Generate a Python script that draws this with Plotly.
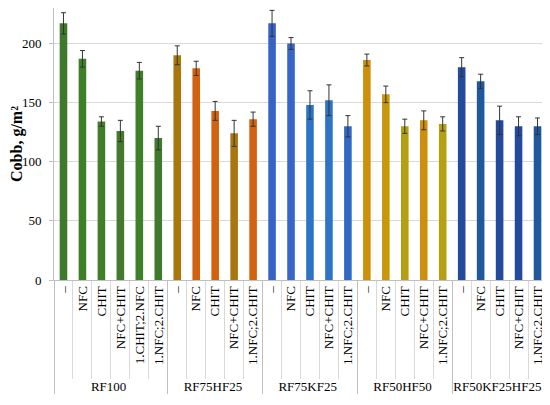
import plotly.graph_objects as go

# sample groups and treatments
groups = ['RF100', 'RF75HF25', 'RF75KF25', 'RF50HF50', 'RF50KF25HF25']
treatments = {
    'RF100': ['–', 'NFC', 'CHIT', 'NFC+CHIT', '1.CHIT;2.NFC', '1.NFC;2.CHIT'],
    'RF75HF25': ['–', 'NFC', 'CHIT', 'NFC+CHIT', '1.NFC;2.CHIT'],
    'RF75KF25': ['–', 'NFC', 'CHIT', 'NFC+CHIT', '1.NFC;2.CHIT'],
    'RF50HF50': ['–', 'NFC', 'CHIT', 'NFC+CHIT', '1.NFC;2.CHIT'],
    'RF50KF25HF25': ['–', 'NFC', 'CHIT', 'NFC+CHIT', '1.NFC;2.CHIT'],
}

# Cobb values, g/m2 and their errors
cobb = {
    'RF100': [217, 187, 134, 126, 177, 120],
    'RF75HF25': [190, 179, 143, 124, 136],
    'RF75KF25': [217, 200, 148, 152, 130],
    'RF50HF50': [186, 157, 130, 135, 132],
    'RF50KF25HF25': [180, 168, 135, 130, 130],
}
errors = {
    'RF100': [9, 7, 4, 9, 7, 10],
    'RF75HF25': [8, 6, 8, 11, 6],
    'RF75KF25': [11, 5, 12, 13, 9],
    'RF50HF50': [5, 7, 6, 8, 6],
    'RF50KF25HF25': [8, 6, 12, 8, 7],
}

colors = {
    'RF100': ['#3d7a2b', '#3f7f2a', '#3f7f2a', '#437a2e', '#3f7f2a', '#3d7a2b'],
    'RF75HF25': ['#a8780f', '#d2620e', '#d2620e', '#a8780f', '#d2620e'],
    'RF75KF25': ['#3563c6', '#3566c8', '#2e74c6', '#2e74c6', '#3068c4'],
    'RF50HF50': ['#cc900c', '#c8980c', '#b4a010', '#cc900c', '#b4a010'],
    'RF50KF25HF25': ['#234a9c', '#1f589c', '#234a9c', '#234a9c', '#1f589c'],
}

serif = 'Liberation Serif, Times New Roman, serif'
n_bars = sum(len(treatments[g]) for g in groups)

fig = go.Figure()
for g in groups:
    fig.add_trace(go.Bar(
        x=[[g] * len(treatments[g]), treatments[g]],
        y=cobb[g],
        marker=dict(color=colors[g], line=dict(width=0)),
        error_y=dict(type='data', array=errors[g], color='#333333',
                     thickness=1, width=2.5),
        showlegend=False,
    ))

# the page has an 8px body margin, so the figure is sized a bit smaller
fig.update_layout(
    width=542,
    height=397,
    margin=dict(l=46, r=3, t=0, b=125),
    plot_bgcolor='white',
    paper_bgcolor='white',
    bargap=0.6,
    font=dict(family=serif, size=13, color='#000000'),
)
fig.update_xaxes(
    type='multicategory',
    range=[-0.5, n_bars - 0.5],
    tickangle=-90,
    showline=True,
    linecolor='#bfbfbf',
    ticks='outside',
    tickson='boundaries',
    ticklen=98,
    tickcolor='#d9d9d9',
    showdividers=True,
    dividercolor='#bfbfbf',
    dividerwidth=1,
    tickfont=dict(family=serif, size=13, color='#000000'),
)
fig.update_yaxes(
    range=[0, 230],
    tickvals=[0, 50, 100, 150, 200],
    automargin=False,
    showgrid=True,
    gridcolor='#d9d9d9',
    gridwidth=1,
    zeroline=False,
    showline=True,
    linecolor='#bfbfbf',
    ticks='outside',
    ticklen=4,
    tickcolor='#bfbfbf',
    ticklabelstandoff=5,
    tickfont=dict(family=serif, size=13, color='#000000'),
    title=dict(text='<b>Cobb, g/m²</b>', font=dict(family=serif, size=16), standoff=8),
)

fig.write_html('out.html')
